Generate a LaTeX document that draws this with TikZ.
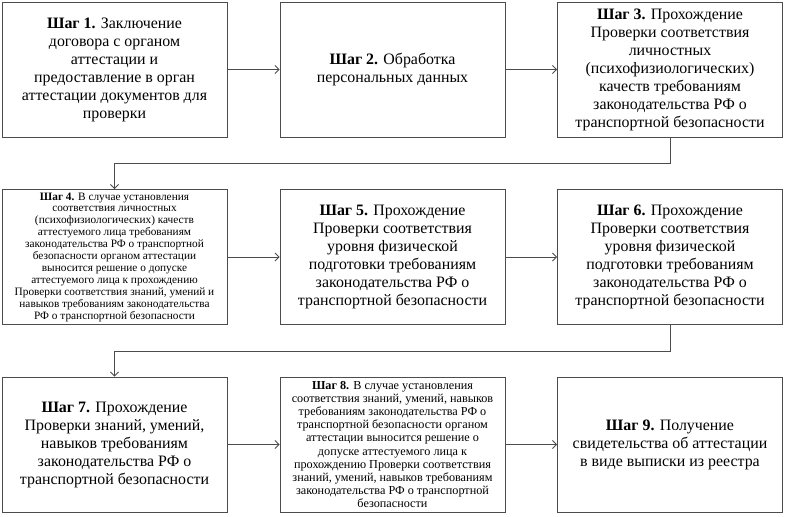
\documentclass[tikz,border=0pt]{standalone}
\usepackage{fontspec}
\setmainfont{Liberation Serif}
\usepackage{tikz}
\usetikzlibrary{arrows.meta, positioning, calc}
\tikzset{
    step node/.style={rectangle, draw=black!70, line width=0.9pt, minimum width=225pt, minimum height=135pt,
        inner sep=2pt, align=center, font=\fontsize{15.9}{18}\selectfont},
    small node/.style={step node, font=\fontsize{11.3}{11.9}\selectfont},
    wide node/.style={step node, font=\fontsize{12.2}{13.1}\selectfont}
}
\begin{document}
\begin{tikzpicture}[x=1pt, y=-1pt, >={Straight Barb[length=4pt, width=8pt]}]
% Nine steps of the attestation procedure, three per row.
  \useasboundingbox (0,0) rectangle (786,516);
  \node[step node] (1) at (114.5, 69.5) {\textbf{Шаг 1.} Заключение\\договора с органом\\аттестации и\\предоставление в орган\\аттестации документов для\\проверки};
  \node[step node] (2) at (392.5, 69.5) {\textbf{Шаг 2.} Обработка\\персональных данных};
  \node[step node] (3) at (670, 69.5) {\textbf{Шаг 3.} Прохождение\\Проверки соответствия\\личностных\\(психофизиологических)\\качеств требованиям\\законодательства РФ о\\транспортной безопасности};
  \node[small node] (4) at (114.5, 257) {\textbf{Шаг 4.} В случае установления\\соответствия личностных\\(психофизиологических) качеств\\аттестуемого лица требованиям\\законодательства РФ о транспортной\\безопасности органом аттестации\\выносится решение о допуске\\аттестуемого лица к прохождению\\Проверки соответствия знаний, умений и\\навыков требованиям законодательства\\РФ о транспортной безопасности};
  \node[step node] (5) at (392.5, 257) {\textbf{Шаг 5.} Прохождение\\Проверки соответствия\\уровня физической\\подготовки требованиям\\законодательства РФ о\\транспортной безопасности};
  \node[step node] (6) at (670, 257) {\textbf{Шаг 6.} Прохождение\\Проверки соответствия\\уровня физической\\подготовки требованиям\\законодательства РФ о\\транспортной безопасности};
  \node[step node] (7) at (114.5, 444.5) {\textbf{Шаг 7.} Прохождение\\Проверки знаний, умений,\\навыков требованиям\\законодательства РФ о\\транспортной безопасности};
  \node[wide node] (8) at (392.5, 444.5) {\textbf{Шаг 8.} В случае установления\\соответствия знаний, умений, навыков\\требованиям законодательства РФ о\\транспортной безопасности органом\\аттестации выносится решение о\\допуске аттестуемого лица к\\прохождению Проверки соответствия\\знаний, умений, навыков требованиям\\законодательства РФ о транспортной\\безопасности};
  \node[step node] (9) at (670, 444.5) {\textbf{Шаг 9.} Получение\\свидетельства об аттестации\\в виде выписки из реестра};
  \draw[->, black!70, line width=0.8pt] (1) -- (2);
  \draw[->, black!70, line width=0.8pt] (2) -- (3);
  \draw[->, black!70, line width=0.8pt] (3.south) -- ++(0,26) -| (4.north);
  \draw[->, black!70, line width=0.8pt] (4) -- (5);
  \draw[->, black!70, line width=0.8pt] (5) -- (6);
  \draw[->, black!70, line width=0.8pt] (6.south) -- ++(0,26) -| (7.north);
  \draw[->, black!70, line width=0.8pt] (7) -- (8);
  \draw[->, black!70, line width=0.8pt] (8) -- (9);
\end{tikzpicture}
\end{document}
